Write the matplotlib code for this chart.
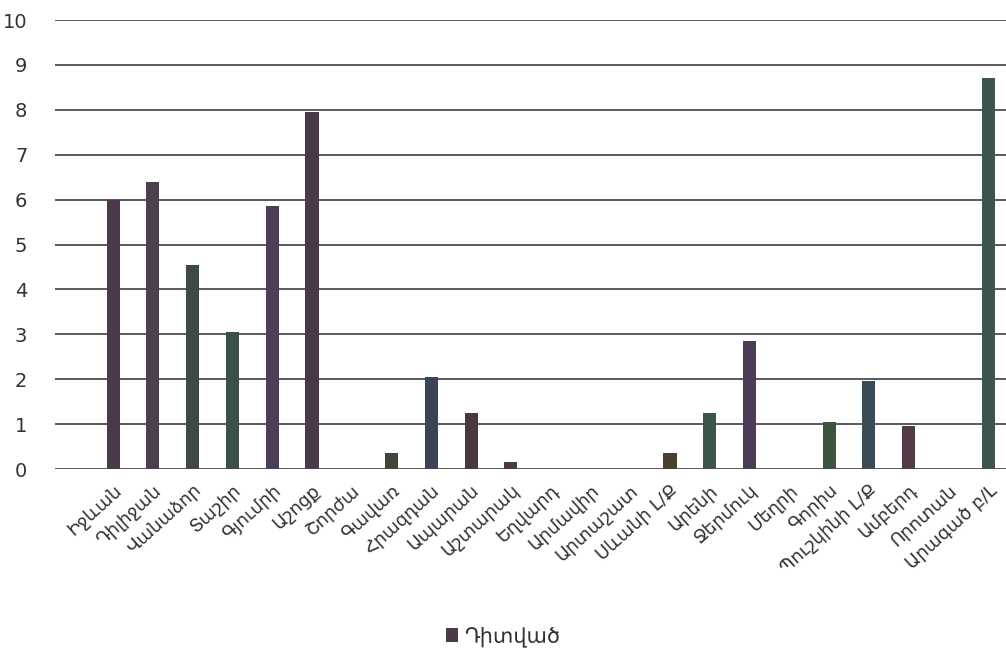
import matplotlib.pyplot as plt
import numpy as np

stations = ['Իջևան', 'Դիլիջան', 'Վանաձոր', 'Տաշիր', 'Գյումրի', 'Աշոցք', 'Շորժա',
            'Գավառ', 'Հրազդան', 'Ապարան', 'Աշտարակ', 'Եղվարդ', 'Արմավիր', 'Արտաշատ',
            'Սևանի Լ/Ք', 'Արենի', 'Ջերմուկ', 'Մեղրի', 'Գորիս', 'Պուշկինի Լ/Ք',
            'Ամբերդ', 'Որոտան', 'Արագած բ/Լ']
observed = [6.0, 6.4, 4.55, 3.05, 5.85, 7.95, 0.0,
            0.35, 2.05, 1.25, 0.15, 0.0, 0.0, 0.0,
            0.35, 1.25, 2.85, 0.0, 1.05, 1.95,
            0.95, 0.0, 8.7]
yticks = list(range(0, 11))

# printed photo -> bars come out in slightly different dark tones
bar_colors = ['#4a3d4e', '#4d3f4d', '#3d4a42', '#3a5048', '#4a3f55', '#4a3a48', '#4a3d4e',
              '#3f4538', '#3a4452', '#4a3840', '#4a3a40', '#4a3d4e', '#4a3d4e', '#4a3d4e',
              '#4a4030', '#3d5548', '#4a3d55', '#4a3d4e', '#3d5540', '#3a4a55',
              '#553a48', '#4a3d4e', '#3d5550']

fig = plt.figure(figsize=(10.06, 6.56), dpi=100)
ax = fig.add_axes([0.0547, 0.285, 0.945, 0.6845])

x = np.arange(len(stations))
ax.bar(x, observed, width=0.33, color=bar_colors, zorder=3, label='Դիտված')

ax.set_ylim(0, 10)
ax.set_xlim(-1.46, 22.44)
ax.set_yticks(yticks)
ax.yaxis.grid(True, color='#5a5a5a', linewidth=1.4, zorder=0)
ax.tick_params(axis='y', length=0, pad=20, labelsize=14, labelcolor='#333333')
ax.tick_params(axis='x', length=0, pad=9)
ax.set_xticks(x)
ax.set_xticklabels(stations, rotation=42, ha='right', rotation_mode='anchor',
                   fontsize=13, color='#333333')
for s in ax.spines.values():
    s.set_visible(False)

h, l = ax.get_legend_handles_labels()
h[0].patches[0].set_facecolor('#4b3a4a')
fig.legend([h[0].patches[0]], l, loc='lower center', bbox_to_anchor=(0.5, -0.015),
           frameon=False, fontsize=15, handlelength=0.6, handleheight=0.6,
           handletextpad=0.3, labelcolor='#333333')

fig.savefig('out.png', dpi=100)
